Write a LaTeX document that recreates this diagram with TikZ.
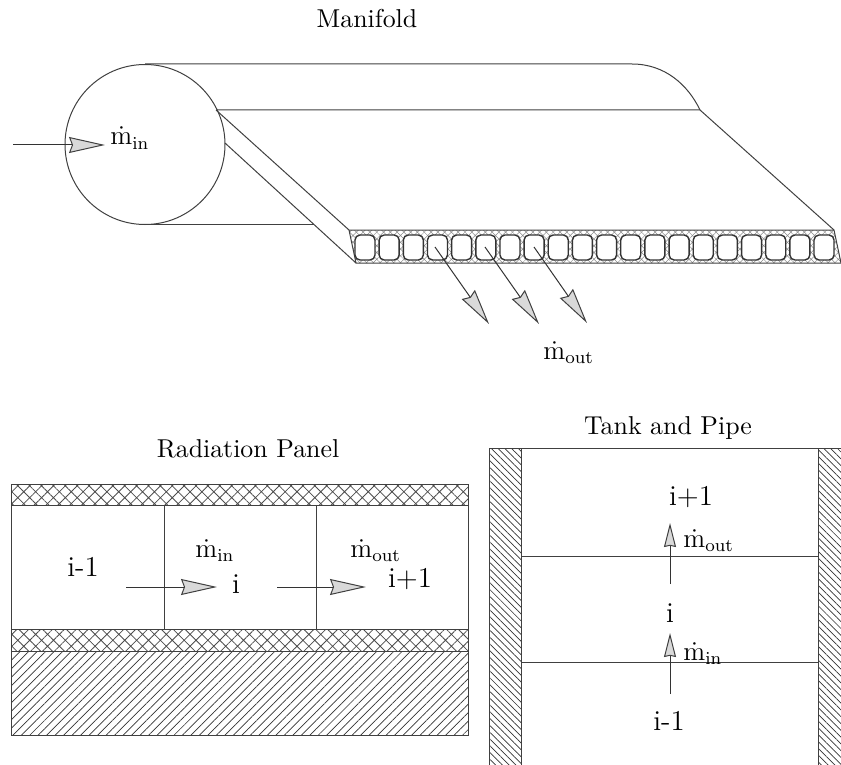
\documentclass[tikz,border=0pt,11pt]{standalone}
\usepackage{amsmath,amssymb}
\usepackage{xcolor}
\usepackage{tikz}
\usetikzlibrary{arrows.meta,patterns.meta}
\tikzset{
  wall/.style={draw=black!75,line width=.5pt},
  flow/.style={draw=black!80,line width=.5pt,-{Stealth[length=18pt,width=8pt,inset=1.5pt,fill=black!15,color=black!75,line width=.5pt]}},
  flowup/.style={draw=black!80,line width=.5pt,-{Stealth[length=12pt,width=6pt,inset=.6pt,fill=black!15,color=black!75,line width=.5pt]}},
  cell/.style={draw=black!80,fill=white,line width=.7pt,rounded corners=2.5pt},
  cross/.style={pattern={Hatch[angle=45,distance=4.2pt,line width=.4pt]},pattern color=black!70},
  crossfine/.style={pattern={Hatch[angle=45,distance=2.4pt,line width=.25pt]},pattern color=black!45},
  slantup/.style={pattern={Lines[angle=45,distance=3pt,line width=.35pt]},pattern color=black!80},
  slantdown/.style={pattern={Lines[angle=-45,distance=2.4pt,line width=.35pt]},pattern color=black!80},
  title/.style={font=\normalsize,anchor=base,scale=1.18},
  cellno/.style={font=\Large,anchor=base},
  rate/.style={font=\large,anchor=base west,inner sep=0pt,scale=1.12},
}
\newcommand{\mrate}[1]{$\dot{\mathrm{m}}_{\mathrm{#1}}$}
\newcommand{\manifold}{%
  \draw[wall] (145,144.5) circle (80);
  \draw[wall] (145,64) -- (632,64) .. controls (665,64) and (688,85) .. (700,110);
  \draw[wall] (216,110) -- (700,110) -- (834,230);
  \draw[wall] (216,110) -- (349,230);
  \draw[wall] (225,143) -- (356,263);
  \draw[wall] (145,224.5) -- (314,224.5);
}
\newcommand{\channels}{%
  \path[crossfine] (349,230) -- (834,230) -- (841,263) -- (356,263) -- cycle;
  \draw[wall] (349,230) -- (834,230) -- (841,263) -- (356,263) -- cycle;
  \foreach \k in {0,...,19}
    \draw[cell] ({355+24.16*\k},235) rectangle ({375+24.16*\k},260);
}
\newcommand{\radpanel}{%
  \path[cross] (11,484) rectangle (468,505);
  \path[cross] (11,629) rectangle (468,651);
  \path[slantup] (11,651) rectangle (468,735);
  \draw[wall] (11,484) rectangle (468,735);
  \draw[wall] (11,505) -- (468,505);
  \draw[wall] (11,629) -- (468,629);
  \draw[wall] (11,651) -- (468,651);
  \draw[wall] (164,505) -- (164,629);
  \draw[wall] (316,505) -- (316,629);
}
\newcommand{\tankpipe}{%
  \path[slantdown] (489,448) rectangle (521,765);
  \path[slantdown] (818,448) rectangle (841,765);
  \draw[wall] (489,765) -- (489,448) -- (841,448);
  \draw[wall] (521,448) -- (521,765);
  \draw[wall] (818,448) -- (818,765);
  \draw[wall] (521,556) -- (818,556);
  \draw[wall] (521,662) -- (818,662);
}

\begin{document}
\begin{tikzpicture}[x=.5pt,y=-.5pt]
\useasboundingbox (0,0) rectangle (841,765);
\manifold \channels \radpanel \tankpipe
\node[title] (manifoldtitle) at (367,28) {Manifold};
\node[title] (paneltitle) at (248,457) {Radiation Panel};
\node[title] (tanktitle) at (668,434) {Tank and Pipe};
\coordinate (feedA) at (13,145);
\coordinate (feedB) at (105,145);
\draw[flow] (feedA) -- (feedB);
\coordinate (outA) at (435,247);
\coordinate (outB) at (489,324);
\draw[flow] (outA) -- (outB);
\coordinate (outC) at (485,247);
\coordinate (outD) at (539,324);
\draw[flow] (outC) -- (outD);
\coordinate (outE) at (534,247);
\coordinate (outF) at (587,323);
\draw[flow] (outE) -- (outF);
\coordinate (panelA) at (126,587);
\coordinate (panelB) at (217,587);
\draw[flow] (panelA) -- (panelB);
\coordinate (panelC) at (277,587);
\coordinate (panelD) at (366,587);
\draw[flow] (panelC) -- (panelD);
\coordinate (tankA) at (670,584);
\coordinate (tankB) at (670,523);
\draw[flowup] (tankA) -- (tankB);
\coordinate (tankC) at (670,694);
\coordinate (tankD) at (670,633);
\draw[flowup] (tankC) -- (tankD);
\node[rate] (feedrate) at (110,145) {\mrate{in}};
\node[rate] (outrate) at (543,359) {\mrate{out}};
\node[rate] (panelin) at (195,557) {\mrate{in}};
\node[rate] (panelout) at (350,557) {\mrate{out}};
\node[rate] (tankout) at (683,547) {\mrate{out}};
\node[rate] (tankin) at (683,660) {\mrate{in}};
\node[cellno] (panelprev) at (83,576) {i-1};
\node[cellno] (panelcur) at (236,593) {i};
\node[cellno] (panelnext) at (410,587) {i+1};
\node[cellno] (tanknext) at (691,505) {i+1};
\node[cellno] (tankcur) at (670,622) {i};
\node[cellno] (tankprev) at (669,730) {i-1};
\end{tikzpicture}
\end{document}
